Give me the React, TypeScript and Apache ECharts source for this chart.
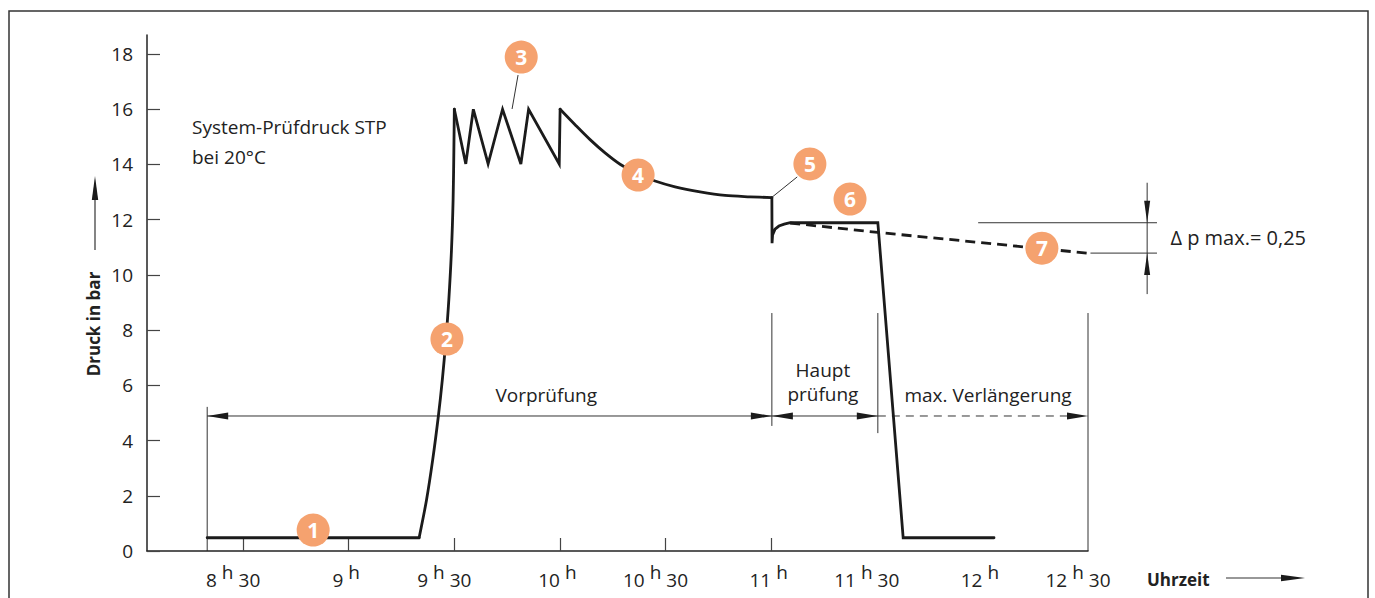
import React, { useEffect, useRef } from "react";
import * as echarts from "echarts";

// x values are minutes after 8:00, y values are bar
const xTickValues = [30, 60, 90, 120, 150, 180];
const xLabelValues = [30, 60, 90, 120, 150, 180, 210, 240, 270];
const yLabelValues = [0, 2, 4, 6, 8, 10, 12, 14, 16, 18];

// pressure curve, split into pieces (flat, rise, zigzag, decay, main test + release)
const flatMin = [19.8, 80.0];
const flatBar = [0.48, 0.48];
const riseMin = [80.0, 82.1, 83.85, 85.47, 86.58, 87.6, 88.43, 89.19, 89.65, 89.87, 90.0];
const riseBar = [0.48, 1.85, 3.3, 4.89, 6.19, 7.64, 9.09, 10.9, 12.71, 14.52, 16.0];
const zigzagMin = [90.0, 93.25, 95.4, 99.6, 103.7, 108.9, 111.1, 119.8, 120.05];
const zigzagBar = [16.0, 14.02, 16.0, 14.02, 16.0, 14.02, 16.0, 14.02, 16.0];
const decayMin = [120.05, 124.3, 128.56, 132.82, 137.08, 142.19, 147.02, 152.7, 159.8, 166.9, 174.0, 180.2];
const decayBar = [16.0, 15.44, 14.9, 14.42, 14.01, 13.65, 13.4, 13.19, 13.01, 12.88, 12.83, 12.8];
const mainMin = [180.2, 180.25, 180.4, 181.1, 182.2, 183.7, 185.4, 210.3, 217.5, 243.3];
const mainBar = [12.8, 11.15, 11.45, 11.66, 11.77, 11.84, 11.89, 11.89, 0.48, 0.48];

const extensionMin = [185.4, 210.3, 269.7];
const extensionBar = [11.88, 11.54, 10.79];

const markerNames = ["1", "2", "3", "4", "5", "6", "7"];
const markerMin = [49.9, 87.9, 109.0, 142.2, 191.0, 202.4, 256.9];
const markerBar = [0.76, 7.68, 17.89, 13.62, 14.02, 12.75, 10.97];

const leader3 = [[108.1, 17.24], [106.4, 16.01]];
const leader5 = [[187.4, 13.55], [180.3, 12.82]];

// phase boundaries (minutes) and dimension line level (bar)
const phaseBounds = [19.8, 180.2, 210.3, 270];
const phaseNames = ["Vorprüfung", "Haupt\nprüfung", "max. Verlängerung"];
const dimLevel = 4.89;
const deltaUpper = 11.89;
const deltaLower = 10.79;

const FONT = '"Open Sans", "Noto Sans", sans-serif';
const INK = "#1b1b1b";
const ORANGE = "#F5A26F";
const FS = 19;

const zip = (a: number[], b: number[]) => a.map((m, i) => [m, b[i]]);

export default function App() {
  const ref = useRef<HTMLDivElement>(null);
  useEffect(() => {
    document.body.style.margin = "0";
    const chart = echarts.init(ref.current!, null, { renderer: "svg" });
    const thinSeries = (data: number[][]) => ({
      type: "line",
      data,
      symbol: "none",
      silent: true,
      lineStyle: { color: "#333", width: 1 },
    });
    const curve = (data: number[][], smooth: any = false) => ({
      type: "line",
      data,
      symbol: "none",
      smooth,
      silent: true,
      lineStyle: { color: INK, width: 2.8, join: "miter", cap: "round" },
      z: 3,
    });
    const lbl = { fontSize: FS, fontFamily: FONT, color: "#222" };
    chart.setOption({
      animation: false,
      grid: { left: 147, right: 287, top: 35, bottom: 47 },
      xAxis: {
        type: "value",
        min: 2.7,
        max: 270,
        splitLine: { show: false },
        axisLine: { lineStyle: { color: "#222", width: 1.5 } },
        axisTick: {
          show: true,
          inside: true,
          length: 13,
          customValues: xTickValues,
          lineStyle: { color: "#444", width: 1.2 },
        },
        axisLabel: {
          customValues: xLabelValues,
          margin: 11,
          formatter: (v: number) => {
            const h = 8 + Math.floor(v / 60);
            const m = v % 60;
            return m === 0 ? `{n|${h}}{h|h}` : `{n|${h}}{h|h}{t|30}`;
          },
          rich: {
            n: { ...lbl },
            h: { ...lbl, padding: [0, 5, 16, 5] },
            t: { ...lbl, padding: [0, 20, 0, 0] },
          },
        },
      },
      yAxis: {
        type: "value",
        min: 0,
        max: 18.69,
        splitLine: { show: false },
        axisLine: { show: true, lineStyle: { color: "#222", width: 1.5 } },
        axisTick: {
          show: true,
          inside: true,
          length: 13,
          customValues: yLabelValues,
          lineStyle: { color: "#444", width: 1.2 },
        },
        axisLabel: {
          customValues: yLabelValues,
          margin: 14,
          ...lbl,
          padding: [9, 0, 0, 0],
        },
      },
      series: [
        curve(zip(flatMin, flatBar)),
        curve(zip(riseMin, riseBar), 0.3),
        curve(zip(zigzagMin, zigzagBar)),
        curve(zip(decayMin, decayBar), 0.3),
        curve(zip(mainMin, mainBar)),
        {
          type: "line",
          data: zip(extensionMin, extensionBar),
          symbol: "none",
          silent: true,
          lineStyle: { color: INK, width: 2.8, type: [10, 6] },
          z: 3,
        },
        thinSeries(leader3),
        thinSeries(leader5),
        {
          type: "scatter",
          data: markerMin.map((m, i) => [m, markerBar[i], markerNames[i]]),
          symbolSize: 33,
          silent: true,
          itemStyle: { color: ORANGE, opacity: 1 },
          label: {
            show: true,
            position: "inside",
            formatter: (p: any) => p.data[2],
            color: "#fff",
            fontSize: 21,
            fontWeight: "bold",
            fontFamily: FONT,
          },
          z: 5,
        },
      ],
    });

    const P = (m: number, v: number) => chart.convertToPixel({ gridIndex: 0 } as any, [m, v]) as number[];
    const thin = { stroke: "#333", lineWidth: 1 };
    const seg = (a: number[], b: number[], style: any = thin) => ({
      type: "line",
      shape: { x1: a[0], y1: a[1], x2: b[0], y2: b[1] },
      style,
      silent: true,
    });
    const arrow = (tip: number[], dx: number, dy: number, L = 21, w = 3.5) => {
      const bx = tip[0] - dx * L, by = tip[1] - dy * L;
      const px = -dy, py = dx;
      return {
        type: "polygon",
        shape: { points: [[tip[0], tip[1]], [bx + px * w, by + py * w], [bx - px * w, by - py * w]] },
        style: { fill: INK },
        silent: true,
      };
    };
    const txt = (x: number, y: number, text: string, extra: any = {}) => ({
      type: "text",
      x,
      y,
      silent: true,
      style: {
        text,
        fill: "#222",
        fontSize: FS,
        fontFamily: FONT,
        align: "center",
        verticalAlign: "middle",
        lineHeight: 24,
        ...extra,
      },
    });

    const g: any[] = [];
    // outer frame
    g.push({
      type: "rect",
      shape: { x: 9, y: 11, width: 1359, height: 620 },
      style: { fill: "none", stroke: "#333", lineWidth: 1.5 },
      silent: true,
    });
    // extension lines
    const topExt = 8.62;
    g.push(seg(P(phaseBounds[0], 0), P(phaseBounds[0], 5.22)));
    g.push(seg(P(phaseBounds[1], 4.53), P(phaseBounds[1], topExt)));
    g.push(seg(P(phaseBounds[2], 4.27), P(phaseBounds[2], topExt)));
    g.push(seg(P(phaseBounds[3], 0), P(phaseBounds[3], topExt)));
    // dimension lines
    const d0 = P(phaseBounds[0], dimLevel), d1 = P(phaseBounds[1], dimLevel);
    const d2 = P(phaseBounds[2], dimLevel), d3 = P(phaseBounds[3], dimLevel);
    g.push(seg(d0, d1));
    g.push(arrow(d0, -1, 0), arrow(d1, 1, 0));
    g.push(seg(d1, d2));
    g.push(arrow(d1, -1, 0), arrow(d2, 1, 0));
    g.push(seg(d2, d3, { stroke: "#333", lineWidth: 1, lineDash: [8, 6] }));
    g.push(arrow(d3, 1, 0));
    // phase texts
    const t0 = P(116.1, 5.65);
    g.push(txt(t0[0], t0[1], phaseNames[0]));
    const t1 = P(194.7, 0);
    g.push(txt(t1[0], 382, phaseNames[1]));
    const t2 = P(241.6, 5.65);
    g.push(txt(t2[0], t2[1], phaseNames[2]));
    // system test pressure note
    g.push(txt(192, 127, "System-Prüfdruck STP", { align: "left" }));
    g.push(txt(192, 157, "bei 20°C", { align: "left" }));
    // delta p
    const uA = P(238.8, deltaUpper), uB = P(289.6, deltaUpper);
    const lA = P(270.7, deltaLower), lB = P(289.6, deltaLower);
    g.push(seg(uA, uB), seg(lA, lB));
    const vx = P(286.8, 0)[0];
    g.push(seg([vx, uA[1] - 40], [vx, lA[1] + 41]));
    g.push(arrow([vx, uA[1]], 0, 1, 22, 3));
    g.push(arrow([vx, lA[1]], 0, -1, 22, 3));
    g.push(txt(P(293.4, 0)[0], (uA[1] + lA[1]) / 2, "Δ p max.= 0,25", { align: "left", fontSize: 20 }));
    // y axis name with arrow
    g.push({
      type: "text",
      x: 93,
      y: 324,
      rotation: Math.PI / 2,
      silent: true,
      style: {
        text: "Druck in bar",
        fill: "#222",
        fontSize: 17,
        fontWeight: "bold",
        fontFamily: FONT,
        align: "center",
        verticalAlign: "middle",
      },
    });
    g.push(seg([95, 250], [95, 195], { stroke: "#333", lineWidth: 1.2 }));
    g.push(arrow([95, 176], 0, -1, 24, 3.2));
    // x axis name with arrow
    g.push(txt(1147, 579, "Uhrzeit", { align: "left", fontWeight: "bold", fontSize: 17 }));
    g.push(seg([1226, 578], [1290, 578], { stroke: "#333", lineWidth: 1.2 }));
    g.push(arrow([1305, 578], 1, 0, 24, 3.2));

    chart.setOption({ graphic: g });
    return () => chart.dispose();
  }, []);
  return <div ref={ref} style={{ width: 1375, height: 598 }} />;
}
